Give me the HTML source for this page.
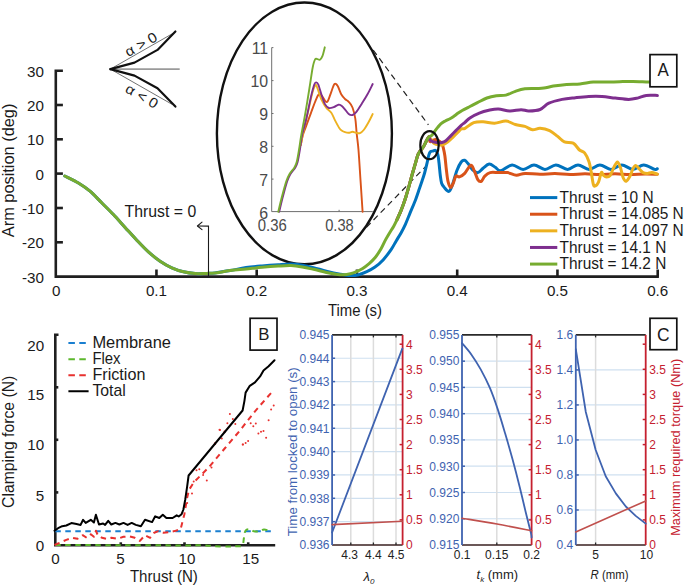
<!DOCTYPE html>
<html><head><meta charset="utf-8"><style>
html,body{margin:0;padding:0;background:#fff;}
svg{display:block;}
text{font-family:"Liberation Sans", sans-serif;}
</style></head><body>
<svg width="685" height="587" viewBox="0 0 685 587">
<rect width="685" height="587" fill="#fff"/>
<path d="M62.9,70.7 L55.8,70.7 L55.8,276.6 L658.9,276.6" fill="none" stroke="#1f1f1f" stroke-width="2.6" stroke-linecap="butt" stroke-linejoin="miter"/>
<line x1="55.8" y1="105" x2="62.9" y2="105" stroke="#1f1f1f" stroke-width="2.6" />
<line x1="55.8" y1="139.3" x2="62.9" y2="139.3" stroke="#1f1f1f" stroke-width="2.6" />
<line x1="55.8" y1="173.6" x2="62.9" y2="173.6" stroke="#1f1f1f" stroke-width="2.6" />
<line x1="55.8" y1="208" x2="62.9" y2="208" stroke="#1f1f1f" stroke-width="2.6" />
<line x1="55.8" y1="242.3" x2="62.9" y2="242.3" stroke="#1f1f1f" stroke-width="2.6" />
<line x1="156.45" y1="276.6" x2="156.45" y2="269.5" stroke="#1f1f1f" stroke-width="2.6" />
<line x1="256.7" y1="276.6" x2="256.7" y2="269.5" stroke="#1f1f1f" stroke-width="2.6" />
<line x1="356.95" y1="276.6" x2="356.95" y2="269.5" stroke="#1f1f1f" stroke-width="2.6" />
<line x1="457.2" y1="276.6" x2="457.2" y2="269.5" stroke="#1f1f1f" stroke-width="2.6" />
<line x1="557.45" y1="276.6" x2="557.45" y2="269.5" stroke="#1f1f1f" stroke-width="2.6" />
<line x1="657.7" y1="276.6" x2="657.7" y2="269.5" stroke="#1f1f1f" stroke-width="2.6" />
<text x="44" y="76.8" font-size="15.2" fill="#1a1a1a" text-anchor="end" >30</text>
<text x="44" y="111.1" font-size="15.2" fill="#1a1a1a" text-anchor="end" >20</text>
<text x="44" y="145.4" font-size="15.2" fill="#1a1a1a" text-anchor="end" >10</text>
<text x="44" y="179.7" font-size="15.2" fill="#1a1a1a" text-anchor="end" >0</text>
<text x="44" y="214.1" font-size="15.2" fill="#1a1a1a" text-anchor="end" >-10</text>
<text x="44" y="248.4" font-size="15.2" fill="#1a1a1a" text-anchor="end" >-20</text>
<text x="44" y="282.7" font-size="15.2" fill="#1a1a1a" text-anchor="end" >-30</text>
<text x="56.2" y="296.1" font-size="15.2" fill="#1a1a1a" text-anchor="middle" >0</text>
<text x="156.45" y="296.1" font-size="15.2" fill="#1a1a1a" text-anchor="middle" >0.1</text>
<text x="256.7" y="296.1" font-size="15.2" fill="#1a1a1a" text-anchor="middle" >0.2</text>
<text x="356.95" y="296.1" font-size="15.2" fill="#1a1a1a" text-anchor="middle" >0.3</text>
<text x="457.2" y="296.1" font-size="15.2" fill="#1a1a1a" text-anchor="middle" >0.4</text>
<text x="557.45" y="296.1" font-size="15.2" fill="#1a1a1a" text-anchor="middle" >0.5</text>
<text x="657.7" y="296.1" font-size="15.2" fill="#1a1a1a" text-anchor="middle" >0.6</text>
<text x="328" y="316" font-size="15.8" fill="#1a1a1a" textLength="54" lengthAdjust="spacingAndGlyphs" >Time (s)</text>
<text x="14.3" y="237.2" font-size="16" fill="#1a1a1a" textLength="133.6" lengthAdjust="spacingAndGlyphs" transform="rotate(-90 14.3 237.2)" >Arm position (deg)</text>
<text x="124.6" y="216.6" font-size="16.5" fill="#1a1a1a" textLength="71.6" lengthAdjust="spacingAndGlyphs" >Thrust = 0</text>
<line x1="110.4" y1="69.1" x2="179.7" y2="69.1" stroke="#9a9a9a" stroke-width="1.6" />
<line x1="110.4" y1="69.1" x2="173.6" y2="33" stroke="#333" stroke-width="0.7" />
<line x1="110.4" y1="69.1" x2="172" y2="104.3" stroke="#333" stroke-width="0.7" />
<path d="M110.4,69.1 L134.5,62.6 L157.5,49.9 L175.4,31.5" fill="none" stroke="#111" stroke-width="2.2"  stroke-linecap="round" stroke-linejoin="round"/>
<path d="M110.4,69.1 L134.5,75.6 L157.5,88.2 L175.4,106.6" fill="none" stroke="#111" stroke-width="2.2"  stroke-linecap="round" stroke-linejoin="round"/>
<text x="143.4" y="48.6" font-size="14" fill="#1a1a1a" text-anchor="middle" textLength="35" lengthAdjust="spacingAndGlyphs" transform="rotate(-30 143.4 48.6)" >&#945; &gt; 0</text>
<text x="139.4" y="100.3" font-size="14" fill="#1a1a1a" text-anchor="middle" textLength="35" lengthAdjust="spacingAndGlyphs" transform="rotate(30 139.4 100.3)" >&#945; &lt; 0</text>
<ellipse cx="304.4" cy="133.4" rx="87.5" ry="130.9" fill="none" stroke="#111" stroke-width="2.4"/>
<line x1="373.2" y1="50" x2="428.4" y2="124.9" stroke="#222" stroke-width="1.2" stroke-dasharray="6 4.2"/>
<line x1="366.4" y1="227.3" x2="427.6" y2="164.5" stroke="#222" stroke-width="1.2" stroke-dasharray="6 4.2"/>
<path d="M273.4,47.6 L271.7,47.6 L271.7,211.6 L372.8,211.6" fill="none" stroke="#6e6e6e" stroke-width="1" stroke-linecap="butt" stroke-linejoin="miter"/>
<line x1="271.7" y1="80.6" x2="273.5" y2="80.6" stroke="#6e6e6e" stroke-width="1" />
<line x1="271.7" y1="113.5" x2="273.5" y2="113.5" stroke="#6e6e6e" stroke-width="1" />
<line x1="271.7" y1="146.3" x2="273.5" y2="146.3" stroke="#6e6e6e" stroke-width="1" />
<line x1="271.7" y1="179.1" x2="273.5" y2="179.1" stroke="#6e6e6e" stroke-width="1" />
<line x1="339.1" y1="211.6" x2="339.1" y2="209.8" stroke="#6e6e6e" stroke-width="1" />
<text x="268.2" y="54.4" font-size="15.9" fill="#4a4a4a" text-anchor="end" >11</text>
<text x="268.2" y="87.4" font-size="15.9" fill="#4a4a4a" text-anchor="end" >10</text>
<text x="268.2" y="120.3" font-size="15.9" fill="#4a4a4a" text-anchor="end" >9</text>
<text x="268.2" y="153.1" font-size="15.9" fill="#4a4a4a" text-anchor="end" >8</text>
<text x="268.2" y="185.9" font-size="15.9" fill="#4a4a4a" text-anchor="end" >7</text>
<text x="268.2" y="218.6" font-size="15.9" fill="#4a4a4a" text-anchor="end" >6</text>
<text x="257.8" y="231" font-size="15.9" fill="#4a4a4a" textLength="29" lengthAdjust="spacingAndGlyphs" >0.36</text>
<text x="325.2" y="231" font-size="15.9" fill="#4a4a4a" textLength="28.6" lengthAdjust="spacingAndGlyphs" >0.38</text>
<path d="M300.8,145 C301.15,143.33 302,138.2 302.9,135 C303.8,131.8 304.85,129.5 306.2,125.8 C307.55,122.1 309.38,117.12 311,112.8 C312.62,108.48 314.55,103 315.9,99.9 C317.25,96.8 318.02,94.75 319.1,94.2 C320.18,93.65 321.32,95.38 322.4,96.6 C323.48,97.82 324.67,100.82 325.6,101.5 C326.53,102.18 327.05,102.32 328,100.7 C328.95,99.08 330.22,94.58 331.3,91.8 C332.38,89.02 333.43,84.95 334.5,84 C335.57,83.05 336.58,84.38 337.7,86.1 C338.82,87.82 339.98,92.15 341.2,94.3 C342.42,96.45 343.75,97.75 345,99 C346.25,100.25 347.45,100.38 348.7,101.8 C349.95,103.22 351.4,104.68 352.5,107.5 C353.6,110.32 354.6,114.33 355.3,118.7 C356,123.07 356.17,128.48 356.7,133.7 C357.23,138.92 357.87,142.28 358.5,150 C359.13,157.72 359.82,169.7 360.5,180 C361.18,190.3 362.25,206.5 362.6,211.8" fill="none" stroke="#D95319" stroke-width="1.9"  stroke-linecap="round" stroke-linejoin="round"/>
<path d="M300.8,145 C301.15,143.15 301.73,139.27 302.9,133.9 C304.07,128.53 306.17,119.82 307.8,112.8 C309.43,105.78 311.4,96.43 312.7,91.8 C314,87.17 314.8,85.55 315.6,85 C316.4,84.45 316.5,86.02 317.5,88.5 C318.5,90.98 320.12,96.65 321.6,99.9 C323.08,103.15 324.78,105.85 326.4,108 C328.02,110.15 329.82,110.65 331.3,112.8 C332.78,114.95 333.95,118.33 335.3,120.9 C336.65,123.47 338.28,126.55 339.4,128.2 C340.52,129.85 341.07,130.13 342,130.8 C342.93,131.47 343.88,131.87 345,132.2 C346.12,132.53 347.45,132.87 348.7,132.8 C349.95,132.73 351.25,131.8 352.5,131.8 C353.75,131.8 354.95,132.58 356.2,132.8 C357.45,133.02 358.75,133.57 360,133.1 C361.25,132.63 362.3,131.77 363.7,130 C365.1,128.23 366.9,125.17 368.4,122.5 C369.9,119.83 371.98,115.42 372.7,114" fill="none" stroke="#EDB120" stroke-width="1.9"  stroke-linecap="round" stroke-linejoin="round"/>
<path d="M279.2,211.8 C279.58,210.17 280.72,205.17 281.5,202 C282.28,198.83 282.97,196.22 283.9,192.8 C284.83,189.38 286.03,184.6 287.1,181.5 C288.17,178.4 288.95,176.5 290.3,174.2 C291.65,171.9 293.98,169.72 295.2,167.7 C296.42,165.68 296.8,165.2 297.6,162.1 C298.4,159 299.25,153.62 300,149.1 C300.75,144.58 301.07,139.97 302.1,135 C303.13,130.03 304.72,125.7 306.2,119.3 C307.68,112.9 309.65,102.4 311,96.6 C312.35,90.8 313.43,86.87 314.3,84.5 C315.17,82.13 315.53,82.4 316.2,82.4 C316.87,82.4 317.4,82.4 318.3,84.5 C319.2,86.6 320.52,91.77 321.6,95 C322.68,98.23 323.6,101.73 324.8,103.9 C326,106.07 327.32,107.45 328.8,108 C330.28,108.55 332.08,107.75 333.7,107.2 C335.32,106.65 337.2,104.93 338.5,104.7 C339.8,104.47 340.5,105.12 341.5,105.8 C342.5,106.48 343.3,107.43 344.5,108.8 C345.7,110.17 347.37,112.97 348.7,114 C350.03,115.03 351.25,115.3 352.5,115 C353.75,114.7 354.65,114.08 356.2,112.2 C357.75,110.32 359.92,106.68 361.8,103.7 C363.68,100.72 365.68,97.58 367.5,94.3 C369.32,91.02 371.83,85.72 372.7,84" fill="none" stroke="#7E2F8E" stroke-width="1.9"  stroke-linecap="round" stroke-linejoin="round"/>
<path d="M278.3,211.8 C278.68,210.17 279.82,205.17 280.6,202 C281.38,198.83 282.07,196.22 283,192.8 C283.93,189.38 285.13,184.6 286.2,181.5 C287.27,178.4 288.05,176.5 289.4,174.2 C290.75,171.9 293.08,169.72 294.3,167.7 C295.52,165.68 295.9,165.2 296.7,162.1 C297.5,159 298.33,153.62 299.1,149.1 C299.87,144.58 300.25,141.05 301.3,135 C302.35,128.95 304.05,120.55 305.4,112.8 C306.75,105.05 308.18,96.05 309.4,88.5 C310.62,80.95 311.75,72.35 312.7,67.5 C313.65,62.65 314.3,60.8 315.1,59.4 C315.9,58 316.7,59.05 317.5,59.1 C318.3,59.15 319.08,60.18 319.9,59.7 C320.72,59.22 321.58,58.27 322.4,56.2 C323.22,54.13 324.4,48.78 324.8,47.3" fill="none" stroke="#77AC30" stroke-width="1.9"  stroke-linecap="round" stroke-linejoin="round"/>
<path d="M64.8,176 C67.07,177.17 74.2,180.47 78.4,183 C82.6,185.53 86.12,187.9 90,191.2 C93.88,194.5 97.8,198.92 101.7,202.8 C105.6,206.68 109.5,210.4 113.4,214.5 C117.3,218.6 121.2,223.12 125.1,227.4 C129,231.68 132.92,236.12 136.8,240.2 C140.68,244.28 144.52,248.4 148.4,251.9 C152.28,255.4 156.2,258.55 160.1,261.2 C164,263.85 167.9,266.03 171.8,267.8 C175.7,269.57 179.6,270.83 183.5,271.8 C187.4,272.77 191.32,273.33 195.2,273.6 C199.08,273.87 203.5,273.5 206.8,273.4 C210.1,273.3 211.13,273.47 215,273 C218.87,272.53 224.82,271.5 230,270.6 C235.18,269.7 240.75,268.38 246.1,267.6 C251.45,266.82 256.75,266.38 262.1,265.9 C267.45,265.42 273.38,265 278.2,264.7 C283.02,264.4 286.98,264.02 291,264.1 C295.02,264.18 298.55,264.62 302.3,265.2 C306.05,265.78 309.48,266.6 313.5,267.6 C317.52,268.6 321.95,270.1 326.4,271.2 C330.85,272.3 336.2,273.47 340.2,274.2 C344.2,274.93 347.33,275.52 350.4,275.6 C353.47,275.68 355.87,275.37 358.6,274.7 C361.33,274.03 364.07,272.88 366.8,271.6 C369.53,270.32 372.28,268.95 375,267 C377.72,265.05 380.42,262.8 383.1,259.9 C385.78,257 388.92,252.77 391.1,249.6 C393.28,246.43 394.5,243.77 396.2,240.9 C397.9,238.03 399.77,235.17 401.3,232.4 C402.83,229.63 403.9,227.63 405.4,224.3 C406.9,220.97 408.63,216.42 410.3,212.4 C411.97,208.38 414.02,203.77 415.4,200.2 C416.78,196.63 417.57,193.98 418.6,191 C419.63,188.02 420.6,185.3 421.6,182.3 C422.6,179.3 423.68,176.25 424.6,173 C425.52,169.75 426.4,165.78 427.1,162.8 C427.8,159.82 428.23,156.95 428.8,155.1 C429.37,153.25 429.78,152.38 430.5,151.7 C431.22,151.02 432.25,151.22 433.1,151 C433.95,150.78 434.82,149.85 435.6,150.4 C436.38,150.95 437.23,152.23 437.8,154.3 C438.37,156.37 438.58,159.27 439,162.8 C439.42,166.33 439.87,172.1 440.3,175.5 C440.73,178.9 440.97,181.25 441.6,183.2 C442.23,185.15 442.88,185.83 444.1,187.2 C445.32,188.57 447.52,191.8 448.9,191.4 C450.28,191 451.08,188.23 452.4,184.8 C453.72,181.37 455.33,174.6 456.8,170.8 C458.27,167 459.88,163.75 461.2,162 C462.52,160.25 463.53,160 464.7,160.3 C465.87,160.6 466.88,162.2 468.2,163.8 C469.52,165.4 471,168.43 472.6,169.9 C474.2,171.37 476.05,172.88 477.8,172.6 C479.55,172.32 481.2,169.62 483.1,168.2 C485,166.78 487.17,164.25 489.2,164.1 C491.23,163.95 493.4,166.18 495.3,167.3 C497.2,168.42 497.8,171.2 500.6,170.8 C503.4,170.4 508.35,165.13 512.1,164.9 C515.85,164.67 519.45,169.4 523.1,169.4 C526.75,169.4 530.35,164.9 534,164.9 C537.65,164.9 541.35,169.4 545,169.4 C548.65,169.4 552.13,164.9 555.9,164.9 C559.67,164.9 563.92,169.4 567.6,169.4 C571.28,169.4 574.43,164.9 578,164.9 C581.57,164.9 585.35,169.4 589,169.4 C592.65,169.4 596.25,164.9 599.9,164.9 C603.55,164.9 607.25,169.4 610.9,169.4 C614.55,169.4 618.15,164.9 621.8,164.9 C625.45,164.9 629.15,169.4 632.8,169.4 C636.45,169.4 640.05,164.9 643.7,164.9 C647.35,164.9 652.43,168.77 654.7,169.4 C656.97,170.03 656.87,168.82 657.3,168.7" fill="none" stroke="#0072BD" stroke-width="3"  stroke-linecap="round" stroke-linejoin="round"/>
<path d="M397,219.6 C397.58,218.32 399.43,214.45 400.5,211.9 C401.57,209.35 402.48,206.87 403.4,204.3 C404.32,201.73 405.1,199.42 406,196.5 C406.9,193.58 407.7,190.72 408.8,186.8 C409.9,182.88 411.45,177.08 412.6,173 C413.75,168.92 414.8,165.37 415.7,162.3 C416.6,159.23 417.23,156.52 418,154.6 C418.77,152.68 419.4,152.1 420.3,150.8 C421.2,149.5 422.37,148.48 423.4,146.8 C424.43,145.12 425.57,142.37 426.5,140.7 C427.43,139.03 428.42,136.63 429,136.8 C429.58,136.97 429.32,141.13 430,141.7 C430.68,142.27 432.15,140.55 433.1,140.2 C434.05,139.85 434.77,139.52 435.7,139.6 C436.63,139.68 437.68,140.02 438.7,140.7 C439.72,141.38 441.03,142.52 441.8,143.7 C442.57,144.88 442.78,145.75 443.3,147.8 C443.82,149.85 444.38,152.3 444.9,156 C445.42,159.7 445.88,165.78 446.4,170 C446.92,174.22 447.28,178.4 448,181.3 C448.72,184.2 449.82,187.1 450.7,187.4 C451.58,187.7 452.43,184.98 453.3,183.1 C454.17,181.22 454.88,177.13 455.9,176.1 C456.92,175.07 457.93,177.35 459.4,176.9 C460.87,176.45 462.8,175.35 464.7,173.4 C466.6,171.45 469.2,165.63 470.8,165.2 C472.4,164.77 473.13,168.4 474.3,170.8 C475.47,173.2 476.63,177.85 477.8,179.6 C478.97,181.35 480.13,181.88 481.3,181.3 C482.47,180.72 483.33,177.55 484.8,176.1 C486.27,174.65 487.77,173.18 490.1,172.6 C492.43,172.02 495.88,172.6 498.8,172.6 C501.72,172.6 504.67,172.17 507.6,172.6 C510.53,173.03 513.48,175.07 516.4,175.2 C519.32,175.33 521.17,173.55 525.1,173.4 C529.03,173.25 535.02,174.27 540,174.3 C544.98,174.33 550,173.55 555,173.6 C560,173.65 565,174.57 570,174.6 C575,174.63 580,173.8 585,173.8 C590,173.8 595,174.6 600,174.6 C605,174.6 610,173.8 615,173.8 C620,173.8 625,174.57 630,174.6 C635,174.63 640.43,174.05 645,174 C649.57,173.95 655.33,174.25 657.4,174.3" fill="none" stroke="#D95319" stroke-width="3"  stroke-linecap="round" stroke-linejoin="round"/>
<path d="M397,219.6 C397.58,218.32 399.43,214.45 400.5,211.9 C401.57,209.35 402.48,206.87 403.4,204.3 C404.32,201.73 405.1,199.42 406,196.5 C406.9,193.58 407.7,190.72 408.8,186.8 C409.9,182.88 411.45,177.08 412.6,173 C413.75,168.92 414.8,165.37 415.7,162.3 C416.6,159.23 417.23,156.52 418,154.6 C418.77,152.68 419.4,152.1 420.3,150.8 C421.2,149.5 422.37,148.48 423.4,146.8 C424.43,145.12 425.57,142.37 426.5,140.7 C427.43,139.03 428.17,136.83 429,136.8 C429.83,136.77 430.57,139.35 431.5,140.5 C432.43,141.65 433.4,142.98 434.6,143.7 C435.8,144.42 437.33,144.62 438.7,144.8 C440.07,144.98 441.27,145.32 442.8,144.8 C444.33,144.28 446.2,142.98 447.9,141.7 C449.6,140.42 451.28,138.72 453,137.1 C454.72,135.48 456.83,133.37 458.2,132 C459.57,130.63 460.07,129.52 461.2,128.9 C462.33,128.28 462.92,129.35 465,128.3 C467.08,127.25 470.68,123.7 473.7,122.6 C476.72,121.5 479.63,121.6 483.1,121.7 C486.57,121.8 490.7,123.3 494.5,123.2 C498.3,123.1 502.42,120.88 505.9,121.1 C509.38,121.32 512.23,123.62 515.4,124.5 C518.57,125.38 522.05,125.52 524.9,126.4 C527.75,127.28 529.97,129.48 532.5,129.8 C535.03,130.12 537.25,128.17 540.1,128.3 C542.95,128.43 546.67,129.25 549.6,130.6 C552.53,131.95 555.23,134.52 557.7,136.4 C560.17,138.28 561.82,140.78 564.4,141.9 C566.98,143.02 570.68,141.75 573.2,143.1 C575.72,144.45 577.6,148.37 579.5,150 C581.4,151.63 583.02,150.95 584.6,152.9 C586.18,154.85 587.9,158.53 589,161.7 C590.1,164.87 590.47,168.1 591.2,171.9 C591.93,175.7 592.68,182.18 593.4,184.5 C594.12,186.82 594.65,186.2 595.5,185.8 C596.35,185.4 597.52,184.32 598.5,182.1 C599.48,179.88 600.55,173.6 601.4,172.5 C602.25,171.4 602.75,174.75 603.6,175.5 C604.45,176.25 605.42,177 606.5,177 C607.58,177 608.88,177.08 610.1,175.5 C611.32,173.92 612.58,169.77 613.8,167.5 C615.02,165.23 616.3,161.9 617.4,161.9 C618.5,161.9 619.42,164.82 620.4,167.5 C621.38,170.18 622.33,175.72 623.3,178 C624.27,180.28 625.1,181.48 626.2,181.2 C627.3,180.92 628.8,178.33 629.9,176.3 C631,174.27 631.83,170.8 632.8,169 C633.77,167.2 634.62,165.5 635.7,165.5 C636.78,165.5 638.08,167.82 639.3,169 C640.52,170.18 641.65,171.87 643,172.6 C644.35,173.33 645.93,173.4 647.4,173.4 C648.87,173.4 650.15,172.48 651.8,172.6 C653.45,172.72 656.38,173.85 657.3,174.1" fill="none" stroke="#EDB120" stroke-width="3"  stroke-linecap="round" stroke-linejoin="round"/>
<path d="M397,219.6 C397.58,218.32 399.43,214.45 400.5,211.9 C401.57,209.35 402.48,206.87 403.4,204.3 C404.32,201.73 405.1,199.42 406,196.5 C406.9,193.58 407.7,190.72 408.8,186.8 C409.9,182.88 411.45,177.08 412.6,173 C413.75,168.92 414.8,165.37 415.7,162.3 C416.6,159.23 417.23,156.52 418,154.6 C418.77,152.68 419.4,152.1 420.3,150.8 C421.2,149.5 422.37,148.48 423.4,146.8 C424.43,145.12 425.57,142.37 426.5,140.7 C427.43,139.03 428.42,136.98 429,136.8 C429.58,136.62 429.4,138.78 430,139.6 C430.6,140.42 431.48,141.22 432.6,141.7 C433.72,142.18 435.17,142.37 436.7,142.5 C438.23,142.63 440.27,142.8 441.8,142.5 C443.33,142.2 444.37,141.85 445.9,140.7 C447.43,139.55 449.3,137.32 451,135.6 C452.7,133.88 454.4,132.12 456.1,130.4 C457.8,128.68 459.72,126.65 461.2,125.3 C462.68,123.95 463.55,123.53 465,122.3 C466.45,121.07 467.52,119.43 469.9,117.9 C472.28,116.37 476.15,114.37 479.3,113.1 C482.45,111.83 485.63,110.98 488.8,110.3 C491.97,109.62 494.82,108.9 498.3,109 C501.78,109.1 505.9,110.78 509.7,110.9 C513.5,111.02 517.93,109.7 521.1,109.7 C524.27,109.7 525.53,110.93 528.7,110.9 C531.87,110.87 536.73,110.78 540.1,109.5 C543.47,108.22 545.23,104.88 548.9,103.2 C552.57,101.52 557.68,100.32 562.1,99.4 C566.52,98.48 570.97,98.18 575.4,97.7 C579.83,97.22 584.27,96.7 588.7,96.5 C593.13,96.3 597.57,96.23 602,96.5 C606.43,96.77 610.87,97.62 615.3,98.1 C619.73,98.58 624.9,99.4 628.6,99.4 C632.3,99.4 634.55,98.77 637.5,98.1 C640.45,97.43 642.98,95.85 646.3,95.4 C649.62,94.95 655.55,95.4 657.4,95.4" fill="none" stroke="#7E2F8E" stroke-width="3"  stroke-linecap="round" stroke-linejoin="round"/>
<path d="M64.8,176 C67.07,177.17 74.2,180.47 78.4,183 C82.6,185.53 86.12,187.9 90,191.2 C93.88,194.5 97.8,198.92 101.7,202.8 C105.6,206.68 109.5,210.4 113.4,214.5 C117.3,218.6 121.2,223.12 125.1,227.4 C129,231.68 132.92,236.12 136.8,240.2 C140.68,244.28 144.52,248.4 148.4,251.9 C152.28,255.4 156.2,258.55 160.1,261.2 C164,263.85 167.9,266.03 171.8,267.8 C175.7,269.57 179.6,270.83 183.5,271.8 C187.4,272.77 191.32,273.33 195.2,273.6 C199.08,273.87 203.5,273.5 206.8,273.4 C210.1,273.3 211.13,273.47 215,273 C218.87,272.53 224.82,271.27 230,270.6 C235.18,269.93 240.75,269.55 246.1,269 C251.45,268.45 256.75,267.78 262.1,267.3 C267.45,266.82 273.38,266.38 278.2,266.1 C283.02,265.82 286.98,265.47 291,265.6 C295.02,265.73 298.55,266.28 302.3,266.9 C306.05,267.52 309.48,268.37 313.5,269.3 C317.52,270.23 322.63,271.67 326.4,272.5 C330.17,273.33 333.28,273.92 336.1,274.3 C338.92,274.68 340.92,274.9 343.3,274.8 C345.68,274.7 348.18,274.23 350.4,273.7 C352.62,273.17 354.55,272.47 356.6,271.6 C358.65,270.73 360.67,269.78 362.7,268.5 C364.73,267.22 366.75,265.68 368.8,263.9 C370.85,262.12 372.98,260.28 375,257.8 C377.02,255.32 379.22,251.87 380.9,249 C382.58,246.13 383.68,243.23 385.1,240.6 C386.52,237.97 387.98,235.57 389.4,233.2 C390.82,230.83 392.33,228.67 393.6,226.4 C394.87,224.13 395.85,222.02 397,219.6 C398.15,217.18 399.43,214.45 400.5,211.9 C401.57,209.35 402.48,206.87 403.4,204.3 C404.32,201.73 405.1,199.42 406,196.5 C406.9,193.58 407.7,190.72 408.8,186.8 C409.9,182.88 411.45,177.08 412.6,173 C413.75,168.92 414.8,165.37 415.7,162.3 C416.6,159.23 417.23,156.52 418,154.6 C418.77,152.68 419.4,152.1 420.3,150.8 C421.2,149.5 422.37,148.48 423.4,146.8 C424.43,145.12 425.57,142.37 426.5,140.7 C427.43,139.03 428.12,137.68 429,136.8 C429.88,135.92 430.87,136.28 431.8,135.4 C432.73,134.52 433.62,132.83 434.6,131.5 C435.58,130.17 436.67,128.68 437.7,127.4 C438.73,126.12 439.6,124.83 440.8,123.8 C442,122.77 443.37,122.05 444.9,121.2 C446.43,120.35 448.47,119.55 450,118.7 C451.53,117.85 452.73,117.03 454.1,116.1 C455.47,115.17 456.85,114.03 458.2,113.1 C459.55,112.17 460.25,111.6 462.2,110.5 C464.15,109.4 467.37,107.8 469.9,106.5 C472.43,105.2 474.57,104.12 477.4,102.7 C480.23,101.28 483.73,99.17 486.9,98 C490.07,96.83 493.23,96.18 496.4,95.7 C499.57,95.22 502.73,95.83 505.9,95.1 C509.07,94.37 512.23,92.35 515.4,91.3 C518.57,90.25 521.42,89.27 524.9,88.8 C528.38,88.33 533.13,88.62 536.3,88.5 C539.47,88.38 541.07,88.5 543.9,88.1 C546.73,87.7 549.52,86.72 553.3,86.1 C557.08,85.48 562.17,84.77 566.6,84.4 C571.03,84.03 575.47,84.28 579.9,83.9 C584.33,83.52 588.78,82.4 593.2,82.1 C597.62,81.8 601.98,82.17 606.4,82.1 C610.82,82.03 615.27,81.8 619.7,81.7 C624.13,81.6 628.2,81.43 633,81.5 C637.8,81.57 644.62,82 648.5,82.1 C652.38,82.2 655,82.1 656.3,82.1" fill="none" stroke="#77AC30" stroke-width="3"  stroke-linecap="round" stroke-linejoin="round"/>
<path d="M208.5,276 L208.5,226.1 L197.6,226" fill="none" stroke="#1a1a1a" stroke-width="1.1" stroke-linecap="butt" stroke-linejoin="miter"/>
<path d="M202,222.2 L197.4,226 L202,229.6" fill="none" stroke="#1a1a1a" stroke-width="1.1"  stroke-linecap="round" stroke-linejoin="round"/>
<ellipse cx="429.5" cy="145.2" rx="9.2" ry="14.0" fill="none" stroke="#111" stroke-width="2.2"/>
<line x1="530" y1="197.6" x2="557.3" y2="197.6" stroke="#0072BD" stroke-width="3" />
<text x="559.6" y="202.7" font-size="16.4" fill="#1a1a1a" textLength="94.1" lengthAdjust="spacingAndGlyphs" >Thrust = 10 N</text>
<line x1="530" y1="214.22" x2="557.3" y2="214.22" stroke="#D95319" stroke-width="3" />
<text x="559.6" y="219.32" font-size="16.4" fill="#1a1a1a" textLength="124.2" lengthAdjust="spacingAndGlyphs" >Thrust = 14.085 N</text>
<line x1="530" y1="230.84" x2="557.3" y2="230.84" stroke="#EDB120" stroke-width="3" />
<text x="559.6" y="235.94" font-size="16.4" fill="#1a1a1a" textLength="124.2" lengthAdjust="spacingAndGlyphs" >Thrust = 14.097 N</text>
<line x1="530" y1="247.46" x2="557.3" y2="247.46" stroke="#7E2F8E" stroke-width="3" />
<text x="559.6" y="252.56" font-size="16.4" fill="#1a1a1a" textLength="106.7" lengthAdjust="spacingAndGlyphs" >Thrust = 14.1 N</text>
<line x1="530" y1="264.08" x2="557.3" y2="264.08" stroke="#77AC30" stroke-width="3" />
<text x="559.6" y="269.18" font-size="16.4" fill="#1a1a1a" textLength="106.7" lengthAdjust="spacingAndGlyphs" >Thrust = 14.2 N</text>
<rect x="650" y="54.6" width="26.8" height="32.2" fill="#fff" stroke="#111" stroke-width="1.7"/>
<text x="657.6" y="76.2" font-size="17.5" fill="#1a1a1a" textLength="11.3" lengthAdjust="spacingAndGlyphs" >A</text>
<path d="M58.5,334.8 L55.3,334.8 L55.3,545.3 L275.2,545.3" fill="none" stroke="#1f1f1f" stroke-width="2.6" stroke-linecap="butt" stroke-linejoin="miter"/>
<line x1="55.3" y1="387.3" x2="58.3" y2="387.3" stroke="#1f1f1f" stroke-width="2.6" />
<line x1="55.3" y1="439.8" x2="58.3" y2="439.8" stroke="#1f1f1f" stroke-width="2.6" />
<line x1="55.3" y1="492.4" x2="58.3" y2="492.4" stroke="#1f1f1f" stroke-width="2.6" />
<line x1="120.8" y1="545.3" x2="120.8" y2="542.3" stroke="#1f1f1f" stroke-width="2.6" />
<line x1="184.5" y1="545.3" x2="184.5" y2="542.3" stroke="#1f1f1f" stroke-width="2.6" />
<line x1="248.2" y1="545.3" x2="248.2" y2="542.3" stroke="#1f1f1f" stroke-width="2.6" />
<text x="44.2" y="350.5" font-size="15.2" fill="#1a1a1a" text-anchor="end" >20</text>
<text x="44.2" y="400.2" font-size="15.2" fill="#1a1a1a" text-anchor="end" >15</text>
<text x="44.2" y="450.4" font-size="15.2" fill="#1a1a1a" text-anchor="end" >10</text>
<text x="44.2" y="500.8" font-size="15.2" fill="#1a1a1a" text-anchor="end" >5</text>
<text x="44.2" y="550.6" font-size="15.2" fill="#1a1a1a" text-anchor="end" >0</text>
<text x="55.5" y="563.7" font-size="15.2" fill="#1a1a1a" text-anchor="middle" >0</text>
<text x="120.6" y="563.7" font-size="15.2" fill="#1a1a1a" text-anchor="middle" >5</text>
<text x="186.9" y="563.7" font-size="15.2" fill="#1a1a1a" text-anchor="middle" >10</text>
<text x="250.7" y="563.7" font-size="15.2" fill="#1a1a1a" text-anchor="middle" >15</text>
<text x="129.9" y="582.3" font-size="16" fill="#1a1a1a" textLength="68" lengthAdjust="spacingAndGlyphs" >Thrust (N)</text>
<text x="14.4" y="507.9" font-size="16" fill="#1a1a1a" textLength="132.2" lengthAdjust="spacingAndGlyphs" transform="rotate(-90 14.4 507.9)" >Clamping force (N)</text>
<line x1="55.3" y1="531.2" x2="275" y2="531.2" stroke="#1a7fd0" stroke-width="2" stroke-dasharray="5.5 4.5"/>
<path d="M55.3,545 C66.08,545.03 99.22,545.13 120,545.2 C140.78,545.27 165.83,545.37 180,545.4 C194.17,545.43 199.17,545.27 205,545.4 C210.83,545.53 211.17,546 215,546.2 C218.83,546.4 224.5,546.58 228,546.6 C231.5,546.62 233.62,546.48 236,546.3 C238.38,546.12 240.97,546.97 242.3,545.5 C243.63,544.03 243.45,540 244,537.5 C244.55,535 244.53,531.85 245.6,530.5 C246.67,529.15 249,529.27 250.4,529.4 C251.8,529.53 252.47,530.98 254,531.3 C255.53,531.62 257.93,531.62 259.6,531.3 C261.27,530.98 262.47,529.52 264,529.4 C265.53,529.28 267.63,530.33 268.8,530.6 C269.97,530.87 270.63,530.93 271,531" fill="none" stroke="#5db82e" stroke-width="2" stroke-dasharray="5.5 4.5" stroke-linecap="butt" stroke-linejoin="round"/>
<path d="M54.5,545 L60.2,542.5 L66.3,539.9 L72.4,537.8 L77.5,538.8 L82.7,535.2 L86.7,537.8 L90.8,534.3 L93.9,536.8 L95.9,530.7 L98,535.8 L102.1,537.8 L106.2,538.8 L111.3,537.8 L117.4,538.8 L123.5,536.8 L129.7,536.4 L134.8,537.8 L139.9,540.9 L145,535.2 L150.1,537.8 L154.2,532.7 L158.3,531.1 L163.4,532.7 L168.5,532.3 L174.6,531.1 L180.6,529.2 L184.4,514.2 L187.2,497.4 L189,489.9 L193.7,482.4 L208.7,467.4 L225.1,448 L239.6,430.9 L255,411.3 L273.7,390" fill="none" stroke="#e8312f" stroke-width="2" stroke-dasharray="5.5 4.5" stroke-linecap="butt" stroke-linejoin="round"/>
<circle cx="193.7" cy="481.5" r="1.0" fill="#e8312f"/>
<circle cx="192" cy="493.6" r="1.0" fill="#e8312f"/>
<circle cx="187.2" cy="503" r="1.0" fill="#e8312f"/>
<circle cx="196.5" cy="470.2" r="1.0" fill="#e8312f"/>
<circle cx="199.3" cy="469.3" r="1.0" fill="#e8312f"/>
<circle cx="203.1" cy="474.9" r="1.0" fill="#e8312f"/>
<circle cx="206.8" cy="480.5" r="1.0" fill="#e8312f"/>
<circle cx="211.5" cy="467.4" r="1.0" fill="#e8312f"/>
<circle cx="215.2" cy="444" r="1.0" fill="#e8312f"/>
<circle cx="221.8" cy="438.4" r="1.0" fill="#e8312f"/>
<circle cx="242.7" cy="444.6" r="1.0" fill="#e8312f"/>
<circle cx="220" cy="430" r="1.0" fill="#e8312f"/>
<circle cx="224.6" cy="432.2" r="1.0" fill="#e8312f"/>
<circle cx="229.9" cy="413.9" r="1.0" fill="#e8312f"/>
<circle cx="232.8" cy="419" r="1.0" fill="#e8312f"/>
<circle cx="227.4" cy="423.3" r="1.0" fill="#e8312f"/>
<circle cx="235.3" cy="424.1" r="1.0" fill="#e8312f"/>
<circle cx="219.5" cy="429.7" r="1.0" fill="#e8312f"/>
<circle cx="224.6" cy="431.4" r="1.0" fill="#e8312f"/>
<circle cx="214.9" cy="443.3" r="1.0" fill="#e8312f"/>
<circle cx="250.7" cy="423.3" r="1.0" fill="#e8312f"/>
<circle cx="255.8" cy="423.6" r="1.0" fill="#e8312f"/>
<circle cx="253.3" cy="426.3" r="1.0" fill="#e8312f"/>
<circle cx="273.7" cy="405.4" r="1.0" fill="#e8312f"/>
<circle cx="271.1" cy="409.6" r="1.0" fill="#e8312f"/>
<circle cx="268.6" cy="420.2" r="1.0" fill="#e8312f"/>
<circle cx="258.4" cy="433.5" r="1.0" fill="#e8312f"/>
<circle cx="261" cy="431.8" r="1.0" fill="#e8312f"/>
<circle cx="263.5" cy="430.9" r="1.0" fill="#e8312f"/>
<circle cx="266.1" cy="437.7" r="1.0" fill="#e8312f"/>
<circle cx="243" cy="444.6" r="1.0" fill="#e8312f"/>
<circle cx="245.6" cy="442.9" r="1.0" fill="#e8312f"/>
<circle cx="248.1" cy="441.1" r="1.0" fill="#e8312f"/>
<path d="M54.5,530.7 L58.1,528.2 L62.2,526.2 L66.3,525.5 L71.4,523.1 L76.5,524.1 L80.6,524.9 L83.1,519.8 L85.7,522.9 L90.8,519.8 L93.9,522.5 L95.9,514.7 L99,524.5 L103.1,523.5 L105.1,524.9 L108.2,520.8 L111.3,524.5 L115.4,522.9 L119.4,524.5 L123.5,522.9 L127.6,524.9 L131.7,522.9 L135.8,524.9 L140.9,526.2 L145,519.8 L152.1,522.1 L155.2,516.3 L159.3,518 L162.8,514.7 L166.4,518 L172.6,518 L176.7,515.3 L178.7,516.5 L181.6,514.2 L183.4,509.5 L185.3,499.2 L187.2,486.1 L188.6,475.5 L242.6,410.5 L244.4,401.1 L245.6,392.6 L249.8,385.8 L255,382.4 L260.1,376.4 L263.5,370.4 L268.6,366.2 L274.5,360.2" fill="none" stroke="#000" stroke-width="2"  stroke-linecap="round" stroke-linejoin="round"/>
<line x1="68.4" y1="343.1" x2="89.8" y2="343.1" stroke="#1a7fd0" stroke-width="2" stroke-dasharray="6.5 4.4"/>
<text x="92.4" y="348.1" font-size="16.2" fill="#1a1a1a" textLength="78.6" lengthAdjust="spacingAndGlyphs" >Membrane</text>
<line x1="68.4" y1="359.15" x2="89.8" y2="359.15" stroke="#5db82e" stroke-width="2" stroke-dasharray="6.5 4.4"/>
<text x="92.4" y="364.15" font-size="16.2" fill="#1a1a1a" textLength="28.2" lengthAdjust="spacingAndGlyphs" >Flex</text>
<line x1="68.4" y1="375.2" x2="89.8" y2="375.2" stroke="#e8312f" stroke-width="2" stroke-dasharray="6.5 4.4"/>
<text x="92.4" y="380.2" font-size="16.2" fill="#1a1a1a" textLength="53" lengthAdjust="spacingAndGlyphs" >Friction</text>
<line x1="68.4" y1="391.25" x2="88.6" y2="391.25" stroke="#000" stroke-width="2" />
<text x="92.4" y="396.25" font-size="16.2" fill="#1a1a1a" textLength="33.4" lengthAdjust="spacingAndGlyphs" >Total</text>
<rect x="250.1" y="318.3" width="26.9" height="31.8" fill="#fff" stroke="#111" stroke-width="1.7"/>
<text x="258.2" y="339.8" font-size="16.5" fill="#1a1a1a" textLength="11.2" lengthAdjust="spacingAndGlyphs" >B</text>
<line x1="332.1" y1="358.24" x2="402.6" y2="358.24" stroke="#cfe0f0" stroke-width="1.2" />
<line x1="332.1" y1="381.59" x2="402.6" y2="381.59" stroke="#cfe0f0" stroke-width="1.2" />
<line x1="332.1" y1="404.93" x2="402.6" y2="404.93" stroke="#cfe0f0" stroke-width="1.2" />
<line x1="332.1" y1="428.28" x2="402.6" y2="428.28" stroke="#cfe0f0" stroke-width="1.2" />
<line x1="332.1" y1="451.62" x2="402.6" y2="451.62" stroke="#cfe0f0" stroke-width="1.2" />
<line x1="332.1" y1="474.97" x2="402.6" y2="474.97" stroke="#cfe0f0" stroke-width="1.2" />
<line x1="332.1" y1="498.31" x2="402.6" y2="498.31" stroke="#cfe0f0" stroke-width="1.2" />
<line x1="332.1" y1="521.66" x2="402.6" y2="521.66" stroke="#cfe0f0" stroke-width="1.2" />
<line x1="350.8" y1="334.9" x2="350.8" y2="545" stroke="#dcdcdc" stroke-width="1.5" />
<line x1="373.4" y1="334.9" x2="373.4" y2="545" stroke="#dcdcdc" stroke-width="1.5" />
<line x1="396" y1="334.9" x2="396" y2="545" stroke="#dcdcdc" stroke-width="1.5" />
<text x="329.5" y="339.2" font-size="12" fill="#3f63b0" text-anchor="end" >0.945</text>
<text x="329.5" y="362.54" font-size="12" fill="#3f63b0" text-anchor="end" >0.944</text>
<line x1="332.1" y1="358.24" x2="335.1" y2="358.24" stroke="#3f63b0" stroke-width="1.5" />
<text x="329.5" y="385.89" font-size="12" fill="#3f63b0" text-anchor="end" >0.943</text>
<line x1="332.1" y1="381.59" x2="335.1" y2="381.59" stroke="#3f63b0" stroke-width="1.5" />
<text x="329.5" y="409.23" font-size="12" fill="#3f63b0" text-anchor="end" >0.942</text>
<line x1="332.1" y1="404.93" x2="335.1" y2="404.93" stroke="#3f63b0" stroke-width="1.5" />
<text x="329.5" y="432.58" font-size="12" fill="#3f63b0" text-anchor="end" >0.941</text>
<line x1="332.1" y1="428.28" x2="335.1" y2="428.28" stroke="#3f63b0" stroke-width="1.5" />
<text x="329.5" y="455.92" font-size="12" fill="#3f63b0" text-anchor="end" >0.940</text>
<line x1="332.1" y1="451.62" x2="335.1" y2="451.62" stroke="#3f63b0" stroke-width="1.5" />
<text x="329.5" y="479.27" font-size="12" fill="#3f63b0" text-anchor="end" >0.939</text>
<line x1="332.1" y1="474.97" x2="335.1" y2="474.97" stroke="#3f63b0" stroke-width="1.5" />
<text x="329.5" y="502.61" font-size="12" fill="#3f63b0" text-anchor="end" >0.938</text>
<line x1="332.1" y1="498.31" x2="335.1" y2="498.31" stroke="#3f63b0" stroke-width="1.5" />
<text x="329.5" y="525.96" font-size="12" fill="#3f63b0" text-anchor="end" >0.937</text>
<line x1="332.1" y1="521.66" x2="335.1" y2="521.66" stroke="#3f63b0" stroke-width="1.5" />
<text x="329.5" y="549.3" font-size="12" fill="#3f63b0" text-anchor="end" >0.936</text>
<text x="406.1" y="549.3" font-size="12" fill="#c5202f" >0</text>
<line x1="399.6" y1="519.9" x2="402.6" y2="519.9" stroke="#c5202f" stroke-width="1.5" />
<text x="406.1" y="524.2" font-size="12" fill="#c5202f" >0.5</text>
<line x1="399.6" y1="494.8" x2="402.6" y2="494.8" stroke="#c5202f" stroke-width="1.5" />
<text x="406.1" y="499.1" font-size="12" fill="#c5202f" >1</text>
<line x1="399.6" y1="469.7" x2="402.6" y2="469.7" stroke="#c5202f" stroke-width="1.5" />
<text x="406.1" y="474" font-size="12" fill="#c5202f" >1.5</text>
<line x1="399.6" y1="444.6" x2="402.6" y2="444.6" stroke="#c5202f" stroke-width="1.5" />
<text x="406.1" y="448.9" font-size="12" fill="#c5202f" >2</text>
<line x1="399.6" y1="419.5" x2="402.6" y2="419.5" stroke="#c5202f" stroke-width="1.5" />
<text x="406.1" y="423.8" font-size="12" fill="#c5202f" >2.5</text>
<line x1="399.6" y1="394.4" x2="402.6" y2="394.4" stroke="#c5202f" stroke-width="1.5" />
<text x="406.1" y="398.7" font-size="12" fill="#c5202f" >3</text>
<line x1="399.6" y1="369.3" x2="402.6" y2="369.3" stroke="#c5202f" stroke-width="1.5" />
<text x="406.1" y="373.6" font-size="12" fill="#c5202f" >3.5</text>
<line x1="399.6" y1="344.2" x2="402.6" y2="344.2" stroke="#c5202f" stroke-width="1.5" />
<text x="406.1" y="348.5" font-size="12" fill="#c5202f" >4</text>
<line x1="332.1" y1="334.9" x2="402.6" y2="334.9" stroke="#2a2a2a" stroke-width="1.6" />
<line x1="332.1" y1="545" x2="402.6" y2="545" stroke="#3a2020" stroke-width="1.6" />
<line x1="350.8" y1="334.9" x2="350.8" y2="337.4" stroke="#2a2a2a" stroke-width="1.3" />
<line x1="350.8" y1="545" x2="350.8" y2="542.5" stroke="#2a2a2a" stroke-width="1.3" />
<line x1="373.4" y1="334.9" x2="373.4" y2="337.4" stroke="#2a2a2a" stroke-width="1.3" />
<line x1="373.4" y1="545" x2="373.4" y2="542.5" stroke="#2a2a2a" stroke-width="1.3" />
<line x1="396" y1="334.9" x2="396" y2="337.4" stroke="#2a2a2a" stroke-width="1.3" />
<line x1="396" y1="545" x2="396" y2="542.5" stroke="#2a2a2a" stroke-width="1.3" />
<line x1="332.1" y1="334.9" x2="332.1" y2="545" stroke="#3f63b0" stroke-width="1.8" />
<line x1="402.6" y1="334.9" x2="402.6" y2="545" stroke="#c5202f" stroke-width="1.8" />
<line x1="462" y1="361.16" x2="531.6" y2="361.16" stroke="#cfe0f0" stroke-width="1.2" />
<line x1="462" y1="387.42" x2="531.6" y2="387.42" stroke="#cfe0f0" stroke-width="1.2" />
<line x1="462" y1="413.69" x2="531.6" y2="413.69" stroke="#cfe0f0" stroke-width="1.2" />
<line x1="462" y1="439.95" x2="531.6" y2="439.95" stroke="#cfe0f0" stroke-width="1.2" />
<line x1="462" y1="466.21" x2="531.6" y2="466.21" stroke="#cfe0f0" stroke-width="1.2" />
<line x1="462" y1="492.48" x2="531.6" y2="492.48" stroke="#cfe0f0" stroke-width="1.2" />
<line x1="462" y1="518.74" x2="531.6" y2="518.74" stroke="#cfe0f0" stroke-width="1.2" />
<line x1="496.8" y1="334.9" x2="496.8" y2="545" stroke="#dcdcdc" stroke-width="1.5" />
<text x="459.4" y="339.2" font-size="12" fill="#3f63b0" text-anchor="end" >0.955</text>
<text x="459.4" y="365.46" font-size="12" fill="#3f63b0" text-anchor="end" >0.950</text>
<line x1="462" y1="361.16" x2="465" y2="361.16" stroke="#3f63b0" stroke-width="1.5" />
<text x="459.4" y="391.72" font-size="12" fill="#3f63b0" text-anchor="end" >0.945</text>
<line x1="462" y1="387.42" x2="465" y2="387.42" stroke="#3f63b0" stroke-width="1.5" />
<text x="459.4" y="417.99" font-size="12" fill="#3f63b0" text-anchor="end" >0.940</text>
<line x1="462" y1="413.69" x2="465" y2="413.69" stroke="#3f63b0" stroke-width="1.5" />
<text x="459.4" y="444.25" font-size="12" fill="#3f63b0" text-anchor="end" >0.935</text>
<line x1="462" y1="439.95" x2="465" y2="439.95" stroke="#3f63b0" stroke-width="1.5" />
<text x="459.4" y="470.51" font-size="12" fill="#3f63b0" text-anchor="end" >0.930</text>
<line x1="462" y1="466.21" x2="465" y2="466.21" stroke="#3f63b0" stroke-width="1.5" />
<text x="459.4" y="496.78" font-size="12" fill="#3f63b0" text-anchor="end" >0.925</text>
<line x1="462" y1="492.48" x2="465" y2="492.48" stroke="#3f63b0" stroke-width="1.5" />
<text x="459.4" y="523.04" font-size="12" fill="#3f63b0" text-anchor="end" >0.920</text>
<line x1="462" y1="518.74" x2="465" y2="518.74" stroke="#3f63b0" stroke-width="1.5" />
<text x="459.4" y="549.3" font-size="12" fill="#3f63b0" text-anchor="end" >0.915</text>
<text x="535.1" y="549.3" font-size="12" fill="#c5202f" >0</text>
<line x1="528.6" y1="519.9" x2="531.6" y2="519.9" stroke="#c5202f" stroke-width="1.5" />
<text x="535.1" y="524.2" font-size="12" fill="#c5202f" >0.5</text>
<line x1="528.6" y1="494.8" x2="531.6" y2="494.8" stroke="#c5202f" stroke-width="1.5" />
<text x="535.1" y="499.1" font-size="12" fill="#c5202f" >1</text>
<line x1="528.6" y1="469.7" x2="531.6" y2="469.7" stroke="#c5202f" stroke-width="1.5" />
<text x="535.1" y="474" font-size="12" fill="#c5202f" >1.5</text>
<line x1="528.6" y1="444.6" x2="531.6" y2="444.6" stroke="#c5202f" stroke-width="1.5" />
<text x="535.1" y="448.9" font-size="12" fill="#c5202f" >2</text>
<line x1="528.6" y1="419.5" x2="531.6" y2="419.5" stroke="#c5202f" stroke-width="1.5" />
<text x="535.1" y="423.8" font-size="12" fill="#c5202f" >2.5</text>
<line x1="528.6" y1="394.4" x2="531.6" y2="394.4" stroke="#c5202f" stroke-width="1.5" />
<text x="535.1" y="398.7" font-size="12" fill="#c5202f" >3</text>
<line x1="528.6" y1="369.3" x2="531.6" y2="369.3" stroke="#c5202f" stroke-width="1.5" />
<text x="535.1" y="373.6" font-size="12" fill="#c5202f" >3.5</text>
<line x1="528.6" y1="344.2" x2="531.6" y2="344.2" stroke="#c5202f" stroke-width="1.5" />
<text x="535.1" y="348.5" font-size="12" fill="#c5202f" >4</text>
<line x1="462" y1="334.9" x2="531.6" y2="334.9" stroke="#2a2a2a" stroke-width="1.6" />
<line x1="462" y1="545" x2="531.6" y2="545" stroke="#3a2020" stroke-width="1.6" />
<line x1="496.8" y1="334.9" x2="496.8" y2="337.4" stroke="#2a2a2a" stroke-width="1.3" />
<line x1="496.8" y1="545" x2="496.8" y2="542.5" stroke="#2a2a2a" stroke-width="1.3" />
<line x1="462" y1="334.9" x2="462" y2="545" stroke="#3f63b0" stroke-width="1.8" />
<line x1="531.6" y1="334.9" x2="531.6" y2="545" stroke="#c5202f" stroke-width="1.8" />
<line x1="575.8" y1="369.92" x2="645.7" y2="369.92" stroke="#cfe0f0" stroke-width="1.2" />
<line x1="575.8" y1="404.93" x2="645.7" y2="404.93" stroke="#cfe0f0" stroke-width="1.2" />
<line x1="575.8" y1="439.95" x2="645.7" y2="439.95" stroke="#cfe0f0" stroke-width="1.2" />
<line x1="575.8" y1="474.97" x2="645.7" y2="474.97" stroke="#cfe0f0" stroke-width="1.2" />
<line x1="575.8" y1="509.98" x2="645.7" y2="509.98" stroke="#cfe0f0" stroke-width="1.2" />
<line x1="595.6" y1="334.9" x2="595.6" y2="545" stroke="#dcdcdc" stroke-width="1.5" />
<text x="573.2" y="339.2" font-size="12" fill="#3f63b0" text-anchor="end" >1.6</text>
<text x="573.2" y="374.22" font-size="12" fill="#3f63b0" text-anchor="end" >1.4</text>
<line x1="575.8" y1="369.92" x2="578.8" y2="369.92" stroke="#3f63b0" stroke-width="1.5" />
<text x="573.2" y="409.23" font-size="12" fill="#3f63b0" text-anchor="end" >1.2</text>
<line x1="575.8" y1="404.93" x2="578.8" y2="404.93" stroke="#3f63b0" stroke-width="1.5" />
<text x="573.2" y="444.25" font-size="12" fill="#3f63b0" text-anchor="end" >1.0</text>
<line x1="575.8" y1="439.95" x2="578.8" y2="439.95" stroke="#3f63b0" stroke-width="1.5" />
<text x="573.2" y="479.27" font-size="12" fill="#3f63b0" text-anchor="end" >0.8</text>
<line x1="575.8" y1="474.97" x2="578.8" y2="474.97" stroke="#3f63b0" stroke-width="1.5" />
<text x="573.2" y="514.28" font-size="12" fill="#3f63b0" text-anchor="end" >0.6</text>
<line x1="575.8" y1="509.98" x2="578.8" y2="509.98" stroke="#3f63b0" stroke-width="1.5" />
<text x="573.2" y="549.3" font-size="12" fill="#3f63b0" text-anchor="end" >0.4</text>
<text x="649.2" y="549.3" font-size="12" fill="#c5202f" >0</text>
<line x1="642.7" y1="519.9" x2="645.7" y2="519.9" stroke="#c5202f" stroke-width="1.5" />
<text x="649.2" y="524.2" font-size="12" fill="#c5202f" >0.5</text>
<line x1="642.7" y1="494.8" x2="645.7" y2="494.8" stroke="#c5202f" stroke-width="1.5" />
<text x="649.2" y="499.1" font-size="12" fill="#c5202f" >1</text>
<line x1="642.7" y1="469.7" x2="645.7" y2="469.7" stroke="#c5202f" stroke-width="1.5" />
<text x="649.2" y="474" font-size="12" fill="#c5202f" >1.5</text>
<line x1="642.7" y1="444.6" x2="645.7" y2="444.6" stroke="#c5202f" stroke-width="1.5" />
<text x="649.2" y="448.9" font-size="12" fill="#c5202f" >2</text>
<line x1="642.7" y1="419.5" x2="645.7" y2="419.5" stroke="#c5202f" stroke-width="1.5" />
<text x="649.2" y="423.8" font-size="12" fill="#c5202f" >2.5</text>
<line x1="642.7" y1="394.4" x2="645.7" y2="394.4" stroke="#c5202f" stroke-width="1.5" />
<text x="649.2" y="398.7" font-size="12" fill="#c5202f" >3</text>
<line x1="642.7" y1="369.3" x2="645.7" y2="369.3" stroke="#c5202f" stroke-width="1.5" />
<text x="649.2" y="373.6" font-size="12" fill="#c5202f" >3.5</text>
<line x1="642.7" y1="344.2" x2="645.7" y2="344.2" stroke="#c5202f" stroke-width="1.5" />
<text x="649.2" y="348.5" font-size="12" fill="#c5202f" >4</text>
<line x1="575.8" y1="334.9" x2="645.7" y2="334.9" stroke="#2a2a2a" stroke-width="1.6" />
<line x1="575.8" y1="545" x2="645.7" y2="545" stroke="#3a2020" stroke-width="1.6" />
<line x1="595.6" y1="334.9" x2="595.6" y2="337.4" stroke="#2a2a2a" stroke-width="1.3" />
<line x1="595.6" y1="545" x2="595.6" y2="542.5" stroke="#2a2a2a" stroke-width="1.3" />
<line x1="575.8" y1="334.9" x2="575.8" y2="545" stroke="#3f63b0" stroke-width="1.8" />
<line x1="645.7" y1="334.9" x2="645.7" y2="545" stroke="#c5202f" stroke-width="1.8" />
<path d="M332.1,532.5 L402.3,348.6" fill="none" stroke="#3f63b0" stroke-width="1.8"  stroke-linecap="round" stroke-linejoin="round"/>
<path d="M332.1,524.6 L402.3,521.3" fill="none" stroke="#c0504d" stroke-width="1.6"  stroke-linecap="round" stroke-linejoin="round"/>
<path d="M462,343.1 C463.55,344.98 468.18,350.02 471.3,354.4 C474.42,358.78 477.58,363.77 480.7,369.4 C483.82,375.03 487.18,381.62 490,388.2 C492.82,394.78 495.08,401.38 497.6,408.9 C500.12,416.42 502.6,424.85 505.1,433.3 C507.6,441.75 510.17,450.65 512.6,459.6 C515.03,468.55 517.5,478.18 519.7,487 C521.9,495.82 523.93,504.85 525.8,512.5 C527.67,520.15 529.93,528.73 530.9,532.9 C531.87,537.07 531.48,536.73 531.6,537.5" fill="none" stroke="#3f63b0" stroke-width="1.8"  stroke-linecap="round" stroke-linejoin="round"/>
<path d="M462,518.2 C467.83,519.17 485.4,521.92 497,524 C508.6,526.08 525.83,529.58 531.6,530.7" fill="none" stroke="#c0504d" stroke-width="1.6"  stroke-linecap="round" stroke-linejoin="round"/>
<path d="M575.8,349.1 L585.8,412 L595.7,450 L605.7,476.3 L615.8,493.4 L625.8,506.5 L635.7,515.9 L645.7,523.6" fill="none" stroke="#3f63b0" stroke-width="1.8"  stroke-linecap="round" stroke-linejoin="round"/>
<path d="M575.8,531.9 L645.7,500.9" fill="none" stroke="#c0504d" stroke-width="1.6"  stroke-linecap="round" stroke-linejoin="round"/>
<text x="349.7" y="558.9" font-size="12" fill="#222" text-anchor="middle" >4.3</text>
<text x="373.3" y="558.9" font-size="12" fill="#222" text-anchor="middle" >4.4</text>
<text x="396.1" y="558.9" font-size="12" fill="#222" text-anchor="middle" >4.5</text>
<text x="462.1" y="558.9" font-size="12" fill="#222" text-anchor="middle" >0.1</text>
<text x="496.8" y="558.9" font-size="12" fill="#222" text-anchor="middle" >0.15</text>
<text x="531.6" y="558.9" font-size="12" fill="#222" text-anchor="middle" >0.2</text>
<text x="595.6" y="558.9" font-size="12" fill="#222" text-anchor="middle" >5</text>
<text x="646.5" y="558.9" font-size="12" fill="#222" text-anchor="middle" >10</text>
<text x="363.5" y="581" font-size="13" fill="#222" font-style="italic">&#955;<tspan font-size="8" dy="3">0</tspan></text>
<text x="476.5" y="579" font-size="13" fill="#222"><tspan font-style="italic">t</tspan><tspan font-size="8" dy="3" font-style="italic">k</tspan><tspan dy="-3"> (mm)</tspan></text>
<text x="590.6" y="579" font-size="12.6" fill="#222" textLength="38" lengthAdjust="spacingAndGlyphs"><tspan font-style="italic">R</tspan> (mm)</text>
<text x="297" y="536.3" font-size="12.5" fill="#3f63b0" textLength="169" lengthAdjust="spacingAndGlyphs" transform="rotate(-90 297 536.3)" >Time from locked to open (s)</text>
<text x="680" y="535.8" font-size="12.5" fill="#c5202f" textLength="177" lengthAdjust="spacingAndGlyphs" transform="rotate(-90 680 535.8)" >Maximum required torque (Nm)</text>
<rect x="650" y="318.3" width="26.8" height="31.4" fill="#fff" stroke="#111" stroke-width="1.7"/>
<text x="657" y="340.6" font-size="19" fill="#1a1a1a" textLength="12.6" lengthAdjust="spacingAndGlyphs" >C</text>
</svg>
</body></html>
